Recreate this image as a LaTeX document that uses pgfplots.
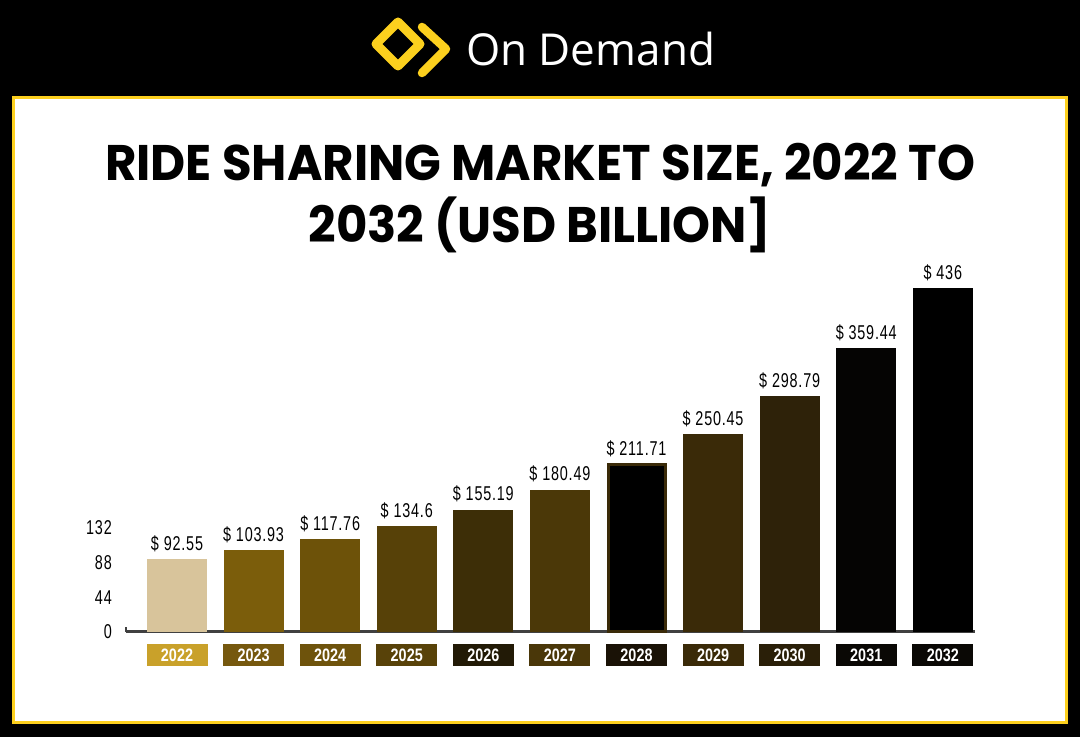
\documentclass[border=0pt]{standalone}
\usepackage{pgfplots}
\pgfplotsset{compat=1.18}
\usepackage{fontspec}
\setmainfont{Liberation Sans}
\newfontfamily\condfont[FakeStretch=0.72,LetterSpace=4]{Liberation Sans}
\newfontfamily\condbfont[FakeStretch=0.8]{Liberation Sans Bold}
\newfontfamily\titlefont[FakeStretch=0.965]{Poppins Bold}
\newfontfamily\headfont{Open Sans}
\definecolor{ylw}{HTML}{FCD01E}
\definecolor{b0}{HTML}{D8C49B}
\definecolor{b1}{HTML}{7B5D0B}
\definecolor{b2}{HTML}{6D5209}
\definecolor{b3}{HTML}{574108}
\definecolor{b4}{HTML}{3D2E07}
\definecolor{b5}{HTML}{4B3808}
\definecolor{b6}{HTML}{000000}
\definecolor{b6e}{HTML}{3A2A08}
\definecolor{b7}{HTML}{3A2A08}
\definecolor{b8}{HTML}{2E2209}
\definecolor{b9}{HTML}{050403}
\definecolor{b10}{HTML}{000000}
\definecolor{t0}{HTML}{C9A12A}
\definecolor{t1}{HTML}{76580E}
\definecolor{t2}{HTML}{6E530C}
\definecolor{t3}{HTML}{584209}
\definecolor{t4}{HTML}{221A06}
\definecolor{t5}{HTML}{4A3709}
\definecolor{t6}{HTML}{1A1206}
\definecolor{t7}{HTML}{3A2A08}
\definecolor{t8}{HTML}{2A1F08}
\definecolor{t9}{HTML}{0A0805}
\definecolor{t10}{HTML}{0A0805}
\definecolor{axgray}{HTML}{404040}
\newcommand{\tlab}[2]{{\setlength{\fboxsep}{0pt}\colorbox{#1}{\makebox[61pt]{\rule[-5pt]{0pt}{22pt}\textcolor{white}{\fontsize{18}{18}\condbfont #2}}}}}
\begin{document}
\begin{tikzpicture}[x=1pt,y=1pt]
\fill[black] (0,0) rectangle (1080,737);
\useasboundingbox (0,0) rectangle (1080,737);
\fill[white] (12,13) rectangle (1068,641);
\draw[ylw, line width=3pt] (13.5,14.5) rectangle (1066.5,639.5);
% logo
\draw[ylw, line width=9pt, line join=round] (398,715) -- (420,693) -- (398,671) -- (376,693) -- cycle;
\draw[ylw, line width=8.5pt, line cap=round, line join=round] (422,710) -- (446,688) -- (422,664);
\node[anchor=base west, inner sep=0pt, text=white] at (466,671) {\fontsize{44}{44}\headfont On Demand};
% title
\node[anchor=base, inner sep=0pt] at (540,556) {\fontsize{50}{50}\titlefont RIDE SHARING MARKET SIZE, 2022 TO};
\node[anchor=base, inner sep=0pt] at (540,494) {\fontsize{50}{50}\titlefont 2032 (USD BILLION]};
% small upturn at the left end of the base line
\draw[axgray, line width=2pt] (126,105) -- (126,110);
\begin{axis}[
  at={(126pt,105pt)}, anchor=south west,
  scale only axis, width=849pt, height=363pt,
  xmin=-0.666, xmax=10.42, ymin=0, ymax=460,
  clip=false,
  axis x line*=bottom, axis y line*=left,
  x axis line style={draw=axgray, line width=3pt},
  y axis line style={draw=none},
  major tick length=0pt,
  xtick={0,1,2,3,4,5,6,7,8,9,10},
  xticklabels={\tlab{t0}{2022},\tlab{t1}{2023},\tlab{t2}{2024},\tlab{t3}{2025},\tlab{t4}{2026},\tlab{t5}{2027},\tlab{t6}{2028},\tlab{t7}{2029},\tlab{t8}{2030},\tlab{t9}{2031},\tlab{t10}{2032}},
  xticklabel style={anchor=north, inner sep=0pt, yshift=-12pt},
  ytick={0,44,88,132},
  yticklabel style={anchor=east, inner sep=0pt, xshift=-14pt, font=\fontsize{20}{20}\condfont},
  /pgf/number format/assume math mode=true,
  point meta=explicit symbolic,
  nodes near coords={\$ \pgfplotspointmeta},
  every node near coord/.style={anchor=south, inner sep=0pt, yshift=7pt, font=\fontsize{20}{20}\condfont, text=black},
]
\addplot[ybar, bar width=60pt, fill=b0, draw=none] coordinates {(0,92.55) [92.55]};
\addplot[ybar, bar width=60pt, fill=b1, draw=none] coordinates {(1,103.93) [103.93]};
\addplot[ybar, bar width=60pt, fill=b2, draw=none] coordinates {(2,117.76) [117.76]};
\addplot[ybar, bar width=60pt, fill=b3, draw=none] coordinates {(3,134.6) [134.6]};
\addplot[ybar, bar width=60pt, fill=b4, draw=none] coordinates {(4,155.19) [155.19]};
\addplot[ybar, bar width=60pt, fill=b5, draw=none] coordinates {(5,180.49) [180.49]};
\addplot[ybar, bar width=57pt, fill=b6, draw=b6e, line width=3pt] coordinates {(6,211.71) [211.71]};
\addplot[ybar, bar width=60pt, fill=b7, draw=none] coordinates {(7,250.45) [250.45]};
\addplot[ybar, bar width=60pt, fill=b8, draw=none] coordinates {(8,298.79) [298.79]};
\addplot[ybar, bar width=60pt, fill=b9, draw=none] coordinates {(9,359.44) [359.44]};
\addplot[ybar, bar width=60pt, fill=b10, draw=none] coordinates {(10,436) [436]};
\end{axis}
\end{tikzpicture}
\end{document}
